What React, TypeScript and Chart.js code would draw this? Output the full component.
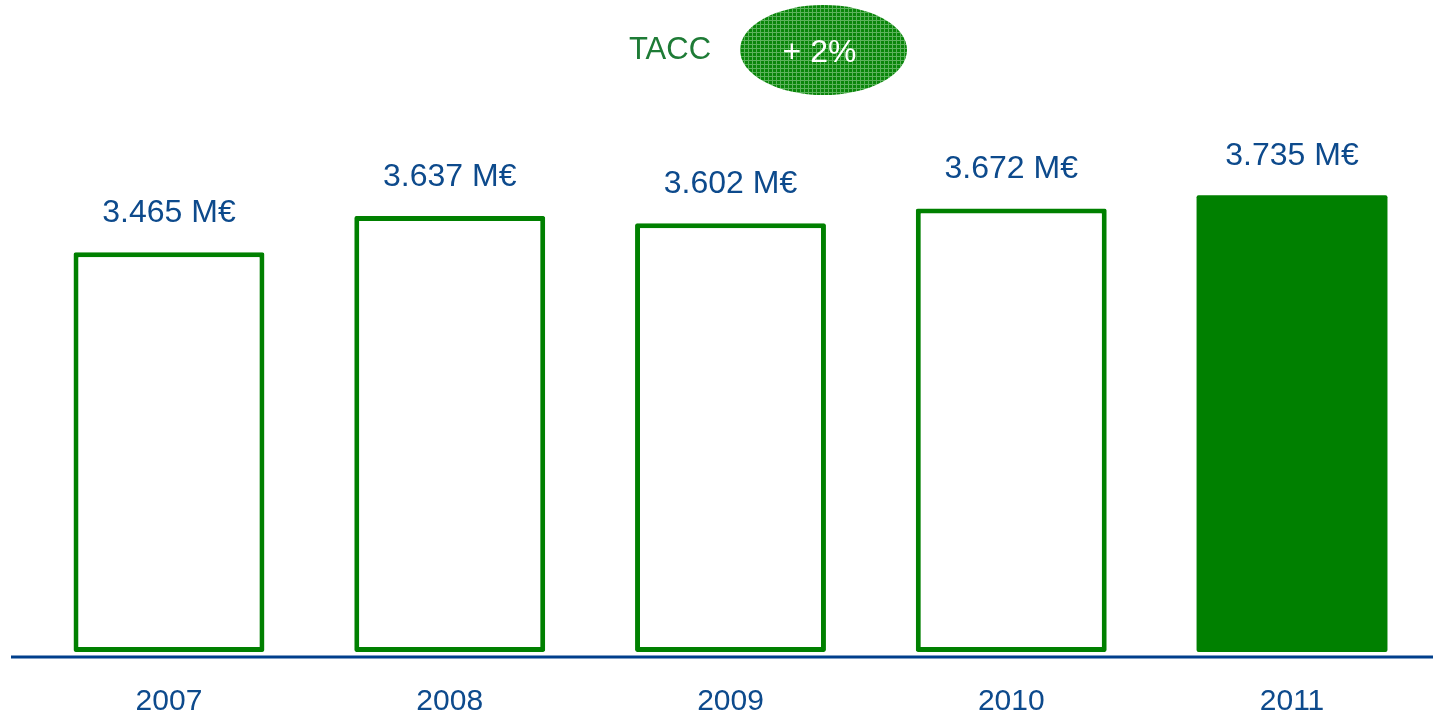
import React, { useEffect, useRef } from "react";
import { Chart, registerables } from "chart.js";

Chart.register(...registerables);

const categories = ["2007", "2008", "2009", "2010", "2011"];
const values = [3465, 3637, 3602, 3672, 3735];
const valueLabels = ["3.465 M€", "3.637 M€", "3.602 M€", "3.672 M€", "3.735 M€"];
const growthLabel = "TACC";
const growthValue = "+ 2%";
const axisMin = 1575;
const axisMax = 4185;

const GREEN = "#008000";
const BLUE_TEXT = "#0D4A8C";
const BLUE_LINE = "#003F8C";
const FONT = "'Liberation Sans', Arial, sans-serif";

function makePattern(ctx: CanvasRenderingContext2D) {
  const c = document.createElement("canvas");
  c.width = 4;
  c.height = 4;
  const p = c.getContext("2d")!;
  p.fillStyle = "#0a860a";
  p.fillRect(0, 0, 4, 4);
  p.fillStyle = "#5cb25c";
  p.fillRect(0, 0, 4, 1);
  p.fillRect(0, 0, 1, 4);
  return ctx.createPattern(c, "repeat");
}

const overlayPlugin = {
  id: "overlay",
  afterDatasetsDraw(chart: any) {
    const ctx: CanvasRenderingContext2D = chart.ctx;
    const area = chart.chartArea;
    ctx.save();
    // baseline
    ctx.strokeStyle = BLUE_LINE;
    ctx.lineWidth = 3;
    ctx.beginPath();
    ctx.moveTo(11, area.bottom + 5);
    ctx.lineTo(chart.width, area.bottom + 5);
    ctx.stroke();

    // value labels
    const meta = chart.getDatasetMeta(0);
    ctx.fillStyle = BLUE_TEXT;
    ctx.font = `32px ${FONT}`;
    ctx.textAlign = "center";
    ctx.textBaseline = "alphabetic";
    meta.data.forEach((bar: any, i: number) => {
      ctx.fillText(valueLabels[i], bar.x, bar.y - 30);
    });

    // TACC annotation
    ctx.fillStyle = "#1E7B36";
    ctx.font = `31px ${FONT}`;
    ctx.fillText(growthLabel, 670, 58.5);

    ctx.beginPath();
    ctx.ellipse(823.5, 50, 83.5, 45, 0, 0, Math.PI * 2);
    ctx.fillStyle = makePattern(ctx) || "#2e8b2e";
    ctx.fill();
    ctx.fillStyle = "#ffffff";
    ctx.font = `32px ${FONT}`;
    ctx.fillText(growthValue, 819.5, 61.5);
    ctx.restore();
  },
};

export default function App() {
  const ref = useRef<HTMLCanvasElement | null>(null);
  useEffect(() => {
    if (!ref.current) return;
    const chart = new Chart(ref.current, {
      type: "bar",
      data: {
        labels: categories,
        datasets: [
          {
            data: values,
            base: axisMin,
            backgroundColor: values.map((_, i) => (i === values.length - 1 ? GREEN : "#ffffff")),
            borderColor: GREEN,
            borderWidth: values.map((_, i) => (i === values.length - 1 ? 0 : 5)),
            borderRadius: 2,
            borderSkipped: false,
            categoryPercentage: 1,
            barPercentage: 0.68,
            clip: false,
          } as any,
        ],
      },
      options: {
        responsive: false,
        animation: false,
        layout: { padding: { left: 28.6, right: 0.6, top: 100, bottom: -7 } },
        plugins: { legend: { display: false }, tooltip: { enabled: false } },
        scales: {
          x: {
            grid: { display: false, drawTicks: true, tickLength: 32 },
            border: { display: false },
            ticks: { color: BLUE_TEXT, font: { size: 30, family: FONT }, padding: 0 },
          },
          y: { display: false, min: axisMin, max: axisMax },
        },
      },
      plugins: [overlayPlugin],
    });
    return () => chart.destroy();
  }, []);
  return (
    <div style={{ position: "fixed", left: 0, top: 0, width: 1433, height: 713, background: "#fff" }}>
      <canvas ref={ref} width={1433} height={713} style={{ display: "block" }} />
    </div>
  );
}
